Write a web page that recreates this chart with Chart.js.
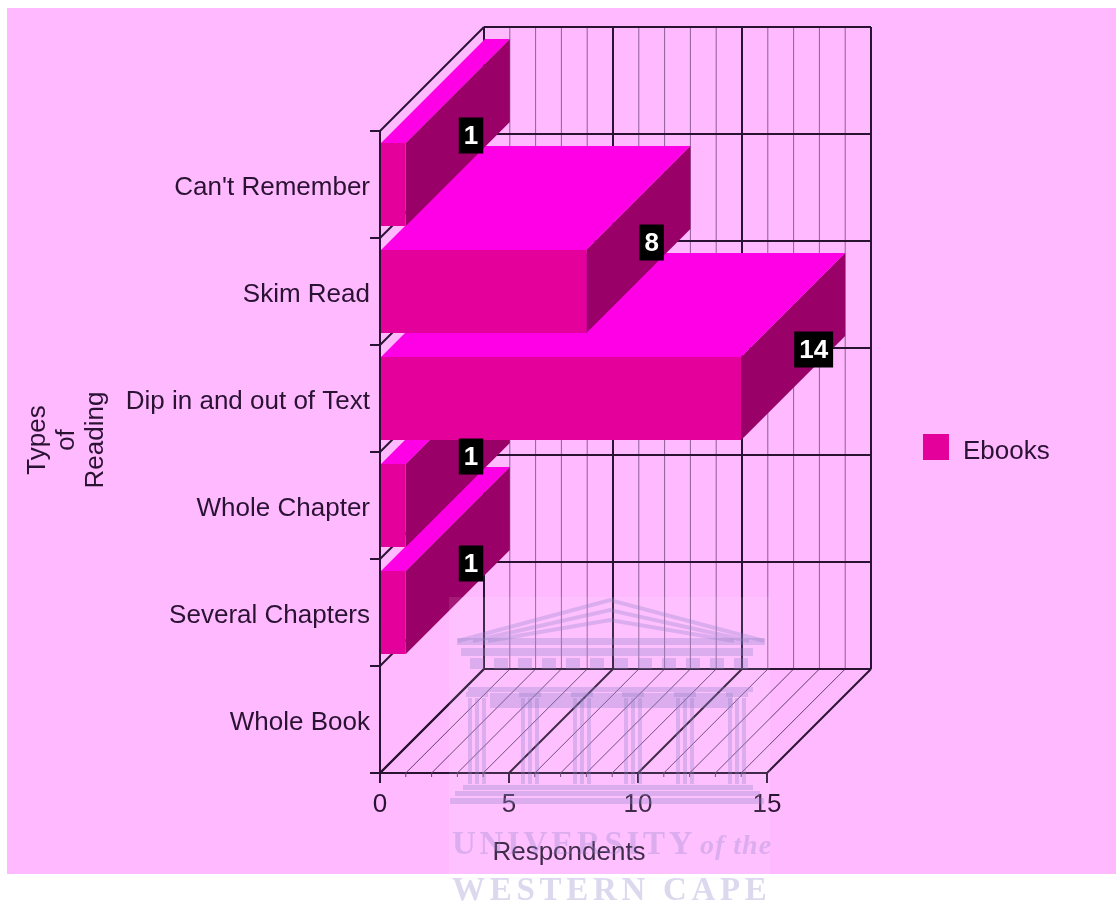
<!DOCTYPE html>
<html>
<head>
<meta charset="utf-8">
<title>Types of Reading - Ebooks</title>
<script src="https://cdn.jsdelivr.net/npm/chart.js@4"></script>
<style>
    html, body { margin: 0; padding: 0; background: #fff; }
    canvas { display: block; }
</style>
</head>
<body>
<canvas id="myChart" width="1116" height="902"></canvas>
<script>
var categories = ["Can't Remember", "Skim Read", "Dip in and out of Text", "Whole Chapter", "Several Chapters", "Whole Book"];
var ebooks = [1, 8, 14, 1, 1, 0];
var minorTicks = [1, 2, 3, 4, 5, 6, 7, 8, 9, 10, 11, 12, 13, 14];
var majorTicks = [0, 5, 10, 15];
var yTitle = ["Types", "of", "Reading"];

var DEPTH = 104;
var INK = "#2a1233";
var FRONT = "#e4009a";
var FONT = "'Liberation Sans', Arial, sans-serif";

// page background, back wall, floor and left wall of the box
var boxGrid = {
    id: "boxGrid",
    beforeDraw: function (chart) {
        var ctx = chart.ctx;
        ctx.save();
        ctx.fillStyle = "#ffb9ff";
        ctx.fillRect(7, 8, 1109, 866);
        ctx.restore();
    },
    beforeDatasetsDraw: function (chart) {
        var ctx = chart.ctx, x = chart.scales.x;
        var area = chart.chartArea;
        ctx.save();

        // every unit, thin
        ctx.lineWidth = 1;
        minorTicks.forEach(function (v) {
            if (v % 5 === 0) return;
            var px = x.getPixelForValue(v);
            ctx.strokeStyle = "#8d5f96";
            line(ctx, px + DEPTH, area.top - DEPTH, px + DEPTH, area.bottom - DEPTH);
            ctx.strokeStyle = "#5f3d68";
            line(ctx, px, area.bottom, px + DEPTH, area.bottom - DEPTH);
            // small tick under the axis
            line(ctx, px, area.bottom, px, area.bottom + 4);
        });

        // every five units, heavy
        ctx.strokeStyle = INK;
        ctx.lineWidth = 2;
        majorTicks.forEach(function (v) {
            var px = x.getPixelForValue(v);
            line(ctx, px + DEPTH, area.top - DEPTH, px + DEPTH, area.bottom - DEPTH);
            line(ctx, px, area.bottom, px + DEPTH, area.bottom - DEPTH);
        });

        // category boundaries across left wall and back wall
        var band = (area.bottom - area.top) / categories.length;
        for (var i = 0; i <= categories.length; i++) {
            var py = area.top + band * i;
            line(ctx, area.left, py, area.left + DEPTH, py - DEPTH);
            line(ctx, area.left + DEPTH, py - DEPTH, area.right + DEPTH, py - DEPTH);
        }
        ctx.restore();

        // tops and ends of the bars, lowest bar first so upper ones sit in front
        var bars = chart.getDatasetMeta(0).data;
        for (var j = bars.length - 1; j >= 0; j--) {
            if (!ebooks[j]) continue;
            var p = bars[j].getProps(["x", "y", "base", "height"], true);
            var top = p.y - p.height / 2, bottom = p.y + p.height / 2;
            ctx.fillStyle = "#ff00e6";
            face(ctx, [[p.base, top], [p.x, top], [p.x + DEPTH, top - DEPTH], [p.base + DEPTH, top - DEPTH]]);
            ctx.fillStyle = "#990068";
            face(ctx, [[p.x, top], [p.x + DEPTH, top - DEPTH], [p.x + DEPTH, bottom - DEPTH], [p.x, bottom]]);
        }
    },
    afterDatasetsDraw: function (chart) {
        var ctx = chart.ctx;
        var bars = chart.getDatasetMeta(0).data;
        ctx.save();
        ctx.font = "bold 26px " + FONT;
        ctx.textAlign = "center";
        ctx.textBaseline = "middle";
        bars.forEach(function (bar, i) {
            if (!ebooks[i]) return;
            var p = bar.getProps(["x", "y"], true);
            var txt = String(ebooks[i]);
            var w = ctx.measureText(txt).width + 10;
            var left = p.x + DEPTH / 2 + 1, cy = p.y - DEPTH / 2 + 3;
            ctx.fillStyle = "#000";
            ctx.fillRect(left, cy - 18, w, 36);
            ctx.fillStyle = "#fff";
            ctx.fillText(txt, left + w / 2, cy + 1);
        });
        ctx.restore();
    },
    afterDraw: function (chart) {
        var ctx = chart.ctx;
        drawAxisTitles(ctx);
        drawLegend(ctx, chart.data.datasets[0]);
        drawCrest(ctx);
    }
};

function line(ctx, x1, y1, x2, y2) {
    ctx.beginPath();
    ctx.moveTo(x1, y1);
    ctx.lineTo(x2, y2);
    ctx.stroke();
}

function face(ctx, pts) {
    ctx.beginPath();
    pts.forEach(function (pt, i) {
        if (i === 0) ctx.moveTo(pt[0], pt[1]); else ctx.lineTo(pt[0], pt[1]);
    });
    ctx.closePath();
    ctx.fill();
}

function drawAxisTitles(ctx) {
    ctx.save();
    ctx.fillStyle = INK;
    ctx.font = "26px " + FONT;
    ctx.textAlign = "center";
    ctx.textBaseline = "middle";
    ctx.fillText("Respondents", 569, 853);
    ctx.translate(67, 440);
    ctx.rotate(-Math.PI / 2);
    yTitle.forEach(function (t, i) {
        ctx.fillText(t, 0, (i - 1) * 29);
    });
    ctx.restore();
}

function drawLegend(ctx, dataset) {
    ctx.save();
    ctx.fillStyle = dataset.backgroundColor;
    ctx.fillRect(923, 434, 26, 26);
    ctx.fillStyle = INK;
    ctx.font = "26px " + FONT;
    ctx.textBaseline = "middle";
    ctx.fillText(dataset.label, 963, 452);
    ctx.restore();
}

// university crest laid faintly over the lower part of the page
function drawCrest(ctx) {
    var tint = "rgba(140,130,200,0.3)";
    ctx.save();
    ctx.fillStyle = "rgba(255,255,255,0.10)";
    ctx.fillRect(449, 597, 321, 277);

    ctx.strokeStyle = tint;
    ctx.lineWidth = 4;
    [0, 10, 20].forEach(function (d) {
        ctx.beginPath();
        ctx.moveTo(458 + d * 1.5, 641);
        ctx.lineTo(610, 600 + d);
        ctx.lineTo(764 - d * 1.5, 641);
        ctx.stroke();
    });

    ctx.fillStyle = tint;
    ctx.fillRect(457, 638, 308, 7);
    ctx.fillRect(461, 648, 292, 8);
    for (var i = 0; i < 12; i++) {
        ctx.fillRect(470 + i * 24, 658, 14, 11);
    }
    ctx.fillRect(468, 687, 285, 5);
    ctx.fillRect(490, 693, 243, 15);
    [477, 530, 582, 633, 685, 737].forEach(function (cx) {
        ctx.fillRect(cx - 11, 692, 22, 5);
        [-7, 0, 7].forEach(function (dx) {
            ctx.fillRect(cx + dx - 2, 698, 4, 86);
        });
    });
    ctx.fillRect(463, 785, 290, 5);
    ctx.fillRect(455, 791, 305, 5);
    ctx.fillRect(450, 798, 314, 6);

    ctx.textBaseline = "alphabetic";
    ctx.textAlign = "left";
    ctx.font = "bold 33px 'Liberation Serif', serif";
    ctx.letterSpacing = "3.7px";
    ctx.fillText("UNIVERSITY", 452, 854);
    ctx.letterSpacing = "4.7px";
    ctx.fillText("WESTERN CAPE", 452, 900);
    ctx.font = "italic bold 28px 'Liberation Serif', serif";
    ctx.letterSpacing = "1px";
    ctx.fillText("of the", 700, 854);
    ctx.restore();
}

var chart = new Chart("myChart", {
    type: "bar",
    data: {
        labels: categories,
        datasets: [{
            label: "Ebooks",
            data: ebooks,
            backgroundColor: FRONT,
            borderWidth: 0,
            barPercentage: 0.775,
            categoryPercentage: 1
        }]
    },
    options: {
        indexAxis: "y",
        responsive: false,
        animation: false,
        layout: { padding: { left: 0, top: 131, right: 349, bottom: 0 } },
        plugins: {
            tooltip: { enabled: false },
            legend: { display: false }
        },
        scales: {
            x: {
                min: 0,
                max: 15,
                afterFit: function (s) { s.height = 129; },
                border: { color: INK, width: 2 },
                grid: { drawOnChartArea: false, color: INK, tickLength: 10, lineWidth: 2 },
                ticks: {
                    stepSize: 5,
                    maxRotation: 0,
                    padding: 6,
                    color: INK,
                    font: { family: FONT, size: 26 }
                }
            },
            y: {
                afterFit: function (s) { s.width = 380; },
                border: { color: INK, width: 2 },
                grid: { drawOnChartArea: false, color: INK, tickLength: 10, lineWidth: 2 },
                ticks: {
                    padding: 0,
                    labelOffset: 3.5,
                    color: INK,
                    font: { family: FONT, size: 26 }
                }
            }
        }
    },
    plugins: [boxGrid]
});
</script>
</body>
</html>
